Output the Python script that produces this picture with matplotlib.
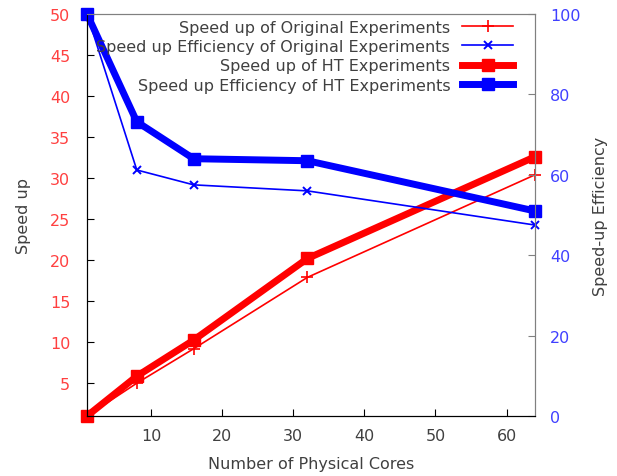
import matplotlib
matplotlib.use("Agg")
import matplotlib.pyplot as plt

cores = [1, 8, 16, 32, 64]
speedup_orig = [1, 5.0, 9.2, 17.9, 30.4]
eff_orig = [100, 61.2, 57.5, 56.0, 47.5]
speedup_ht = [1, 5.85, 10.25, 20.2, 32.6]
eff_ht = [100, 73.2, 64.0, 63.5, 51.0]

plt.rcParams['font.family'] = 'DejaVu Sans'
plt.rcParams['font.size'] = 11.5

fig = plt.figure(figsize=(6.17, 4.77), dpi=100)
ax = fig.add_axes([87 / 617, 1 - 417 / 477, (535 - 87) / 617, (417 - 15) / 477])
ax2 = ax.twinx()

red = '#ff0000'
blue = '#0000ff'

l1, = ax.plot(cores, speedup_orig, color=red, lw=1.2, marker='+', ms=8, mew=1.2,
              label='Speed up of Original Experiments')
l3, = ax.plot(cores, speedup_ht, color=red, lw=5, marker='s', ms=9,
              label='Speed up of HT Experiments')
l2, = ax2.plot(cores, eff_orig, color=blue, lw=1.2, marker='x', ms=6, mew=1.4,
               label='Speed up Efficiency of Original Experiments')
l4, = ax2.plot(cores, eff_ht, color=blue, lw=5, marker='s', ms=9,
               label='Speed up Efficiency of HT Experiments')
for ln in (l1, l2, l3, l4):
    ln.set_clip_on(False)

ax.set_xlim(1, 64)
ax.set_ylim(1, 50)
ax2.set_ylim(0, 100)
ax.set_xticks([10, 20, 30, 40, 50, 60])
ax.set_yticks([5, 10, 15, 20, 25, 30, 35, 40, 45, 50])
ax2.set_yticks([0, 20, 40, 60, 80, 100])

txt = '#404040'
ax.tick_params(axis='x', direction='in', colors='black', labelcolor=txt, length=5, pad=9)
ax.tick_params(axis='y', direction='in', colors='black', labelcolor='#ff4040', length=5, pad=12)
ax2.tick_params(axis='y', direction='in', colors='#808080', labelcolor='#4040ff', length=5, pad=11)

for a in (ax, ax2):
    a.spines['top'].set_color('#808080')
    a.spines['right'].set_color('#808080')
    a.spines['left'].set_color('black')
    a.spines['bottom'].set_color('black')

ax.set_xlabel('Number of Physical Cores', color=txt, labelpad=9)
ax.set_ylabel('Speed up', color=txt, labelpad=14)
ax2.set_ylabel('Speed-up Efficiency', color=txt, labelpad=9)

ax2.legend(handles=[l1, l2, l3, l4], loc='upper right', frameon=False,
           markerfirst=False, handlelength=3.2, labelspacing=0.27,
           handletextpad=0.75, borderaxespad=0.0, borderpad=0.1,
           bbox_to_anchor=(0.955, 0.99), labelcolor=txt)

fig.savefig('out.png', dpi=100)
